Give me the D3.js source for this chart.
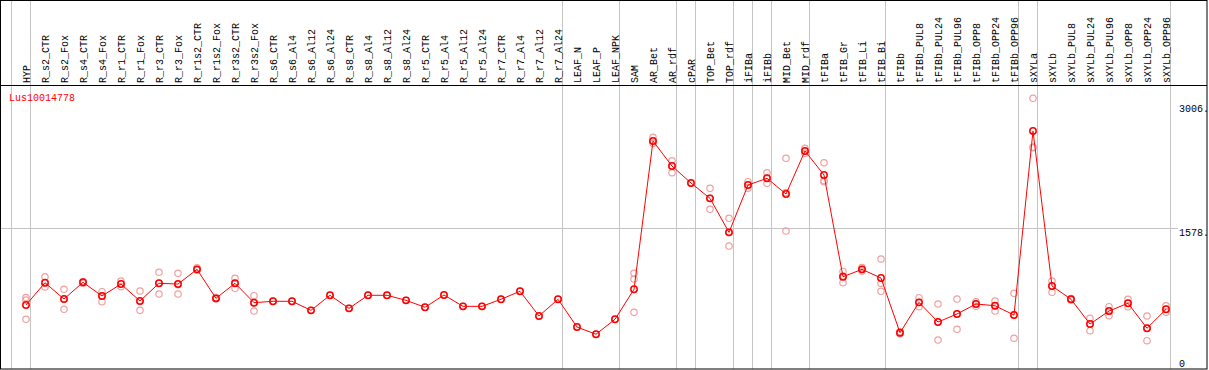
<!DOCTYPE html>
<html>
<head>
<meta charset="utf-8">
<script src="https://cdnjs.cloudflare.com/ajax/libs/d3/7.8.5/d3.min.js"></script>
<style>
  body { margin: 0; background: #fff; }
  text { font-family: "Liberation Mono", "DejaVu Sans Mono", monospace; font-size: 10px; }
</style>
</head>
<body>
<script>

    // Column names (sample types)
    var samples = ['HYP', 'R_s2_CTR', 'R_s2_Fox', 'R_s4_CTR', 'R_s4_Fox', 'R_r1_CTR', 'R_r1_Fox',
                   'R_r3_CTR', 'R_r3_Fox', 'R_r1s2_CTR', 'R_r1s2_Fox', 'R_r3s2_CTR', 'R_r3s2_Fox',
                   'R_s6_CTR', 'R_s6_Al4', 'R_s6_Al12', 'R_s6_Al24', 'R_s8_CTR', 'R_s8_Al4', 'R_s8_Al12',
                   'R_s8_Al24', 'R_r5_CTR', 'R_r5_Al4', 'R_r5_Al12', 'R_r5_Al24', 'R_r7_CTR', 'R_r7_Al4',
                   'R_r7_Al12', 'R_r7_Al24', 'LEAF_N', 'LEAF_P', 'LEAF_NPK', 'SAM', 'AR_Bet', 'AR_rdf',
                   'cPAR', 'TOP_Bet', 'TOP_rdf', 'iFIBa', 'iFIBb', 'MID_Bet', 'MID_rdf', 'tFIBa',
                   'tFIB_Gr', 'tFIB_Li', 'tFIB_Bi', 'tFIBb', 'tFIBb_PUL8', 'tFIBb_PUL24', 'tFIBb_PUL96',
                   'tFIBb_OPP8', 'tFIBb_OPP24', 'tFIBb_OPP96', 'sXYLa', 'sXYLb', 'sXYLb_PUL8',
                   'sXYLb_PUL24', 'sXYLb_PUL96', 'sXYLb_OPP8', 'sXYLb_OPP24', 'sXYLb_OPP96'];

    // number of columns in each tissue group (gridlines between groups)
    var groupSizes = [1, 28, 3, 3, 1, 2, 1, 1, 2, 4, 7, 1, 7];

    // mean expression per column
    var means = [696, 952, 765, 957, 800, 937, 742, 946, 937, 1106, 773, 946, 723,
                 739, 739, 635, 808, 658, 808, 808, 750, 670, 811, 681, 681, 762, 854,
                 570, 762, 443, 360, 532, 877, 2580, 2293, 2098, 1922, 1531, 2075, 2152,
                 1972, 2466, 2190, 1021, 1106, 1006, 378, 727, 501, 593, 708, 688, 581,
                 2695, 915, 762, 478, 627, 716, 429, 647];

    // replicate values per column
    var replicates = [
        [782, 754, 532], [1021, 949, 903], [877, 765, 647], [964, 957, 946], [849, 800, 734],
        [972, 937, 906], [857, 742, 635], [1072, 946, 823], [1060, 930, 823], [1125, 1106, 1095],
        [782, 773, 765], [1003, 946, 888], [803, 723, 627],
        [739], [739], [635], [808], [658], [808], [808], [750], [670], [811], [681], [681],
        [762], [854], [570], [762], [443], [360], [532],
        [1060, 995, 612], [2623, 2580, 2554], [2354, 2293, 2216], [2098], [2037, 1922, 1796],
        [1692, 1531, 1374], [2113, 2075, 2037], [2216, 2152, 2094], [2382, 1988, 1546],
        [2497, 2466, 2439], [2331, 2126, 2113], [1082, 1029, 952], [1127, 1106, 1086],
        [1225, 946, 854], [389, 378, 366], [780, 727, 677], [708, 501, 294], [765, 593, 417],
        [734, 708, 681], [742, 688, 627], [831, 581, 314], [3071, 2511, 2503], [972, 915, 842],
        [771, 762, 754], [543, 478, 401], [677, 627, 573], [762, 716, 677], [570, 429, 286],
        [688, 647, 612]
    ];

    var geneName = 'Lus10014778';
    var yTicks = [0, 1578, 3006];

    var W = 1209, H = 370;
    var headerH = 85, right = 1207, bottom = 369;

    var svg = d3.select('body').append('svg')
                .attr('width', W)
                .attr('height', H);

    // Define our scales
    var xScale = d3.scaleBand()
                   .domain(samples)
                   .range([16.5, 16.5 + samples.length * 19])
                   .padding(0);

    var xPos = function(name) { return xScale(name) + xScale.bandwidth() / 2; };

    var yScale = d3.scaleLinear()
                   .domain([0, 3006])
                   .range([365.6, 104]);

    // group gridlines: one before the first column, one after each group
    var bounds = [xPos(samples[0]) - 15];
    var idx = 0;
    groupSizes.forEach(function(n) {
        idx += n;
        bounds.push(xPos(samples[idx - 1]) + 4);
    });

    svg.append('g')
       .selectAll('line')
       .data(bounds)
       .enter()
       .append('line')
       .attr('x1', function(d) { return Math.round(d) + 0.5; })
       .attr('x2', function(d) { return Math.round(d) + 0.5; })
       .attr('y1', 0)
       .attr('y2', bottom)
       .attr('stroke', '#c4c4c4')
       .attr('stroke-width', 1);

    // horizontal gridline at the middle tick
    svg.append('line')
       .attr('x1', 1)
       .attr('x2', 1178)
       .attr('y1', Math.round(yScale(yTicks[1])) + 0.5)
       .attr('y2', Math.round(yScale(yTicks[1])) + 0.5)
       .attr('stroke', '#c4c4c4')
       .attr('stroke-width', 1);

    // frame
    svg.append('rect')
       .attr('x', 0.5)
       .attr('y', 0.5)
       .attr('width', right - 0.5)
       .attr('height', bottom - 0.5)
       .attr('fill', 'none')
       .attr('stroke', 'black')
       .attr('stroke-width', 1);

    svg.append('line')
       .attr('x1', 0)
       .attr('x2', right)
       .attr('y1', headerH + 0.5)
       .attr('y2', headerH + 0.5)
       .attr('stroke', 'black')
       .attr('stroke-width', 1);

    // column labels, rotated
    svg.append('g')
       .selectAll('text')
       .data(samples)
       .enter()
       .append('text')
       .attr('transform', function(d) { return 'translate(' + (xPos(d) + 3.5) + ',' + (headerH - 2) + ') rotate(-90)'; })
       .attr('text-anchor', 'start')
       .attr('fill', 'black')
       .text(function(d) { return d; });

    // gene name
    svg.append('text')
       .attr('x', 9)
       .attr('y', 101)
       .attr('fill', 'red')
       .text(geneName);

    // y tick labels on the right
    svg.append('g')
       .selectAll('text')
       .data(yTicks)
       .enter()
       .append('text')
       .attr('x', 1179)
       .attr('y', function(d) { return Math.min(yScale(d), 359) + 7.5; })
       .attr('fill', 'black')
       .text(function(d) { return d === 0 ? '0' : d + '.'; });

    // replicate points
    var reps = [];
    replicates.forEach(function(vals, i) {
        vals.forEach(function(v) { reps.push({ name: samples[i], value: v }); });
    });

    svg.append('g')
       .selectAll('circle')
       .data(reps)
       .enter()
       .append('circle')
       .attr('cx', function(d) { return xPos(d.name); })
       .attr('cy', function(d) { return yScale(d.value); })
       .attr('r', 3.2)
       .attr('fill', 'none')
       .attr('stroke', '#f0a0a0')
       .attr('stroke-width', 1.2);

    // mean line
    var line = d3.line()
                 .x(function(d, i) { return xPos(samples[i]); })
                 .y(function(d) { return yScale(d); });

    svg.append('path')
       .datum(means)
       .attr('d', line)
       .attr('fill', 'none')
       .attr('stroke', 'red')
       .attr('stroke-width', 1);

    // mean points
    svg.append('g')
       .selectAll('circle')
       .data(means)
       .enter()
       .append('circle')
       .attr('cx', function(d, i) { return xPos(samples[i]); })
       .attr('cy', function(d) { return yScale(d); })
       .attr('r', 3.2)
       .attr('fill', 'none')
       .attr('stroke', 'red')
       .attr('stroke-width', 1.5);

</script>
</body>
</html>
